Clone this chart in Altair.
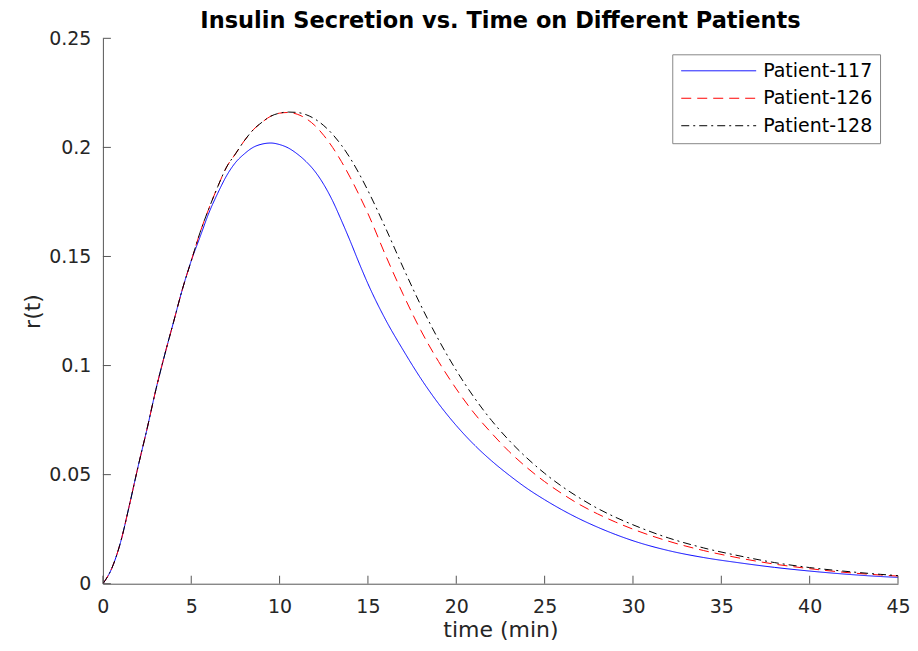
import altair as alt
import pandas as pd

# ---------------- data ----------------
time = [0, 0.5, 1, 1.5, 2, 2.5, 3, 3.5, 4, 4.5, 5,
        5.5, 6, 6.5, 7, 7.5, 8, 8.5, 9, 9.5, 10,
        10.5, 11, 11.5, 12, 12.5, 13, 13.5, 14, 14.5, 15,
        16, 17, 18, 19, 20, 21, 22, 23, 24, 25, 26, 27, 28, 29, 30,
        32, 34, 36, 38, 40, 42, 44, 45]

patient_117 = [0, 0.007, 0.019, 0.036, 0.054, 0.071, 0.089, 0.105, 0.120, 0.135, 0.148,
               0.159, 0.170, 0.179, 0.187, 0.193, 0.197, 0.200, 0.2015, 0.202, 0.2013,
               0.1997, 0.197, 0.1935, 0.1890, 0.1830, 0.1755, 0.1665, 0.1570, 0.1470, 0.1375,
               0.1210, 0.107, 0.094, 0.0825, 0.0725, 0.0638, 0.0563, 0.0497, 0.0437, 0.0385,
               0.0338, 0.0296, 0.0259, 0.0226, 0.0197,
               0.0152, 0.0120, 0.0096, 0.0075, 0.0058, 0.0044, 0.0033, 0.0029]

patient_126 = [0, 0.007, 0.019, 0.036, 0.054, 0.071, 0.089, 0.105, 0.120, 0.135, 0.148,
               0.161, 0.172, 0.182, 0.191, 0.197, 0.203, 0.208, 0.2115, 0.2143, 0.2157,
               0.2160, 0.2152, 0.2132, 0.2100, 0.2055, 0.2000, 0.1935, 0.1862, 0.1782, 0.1697,
               0.1505, 0.1325, 0.1160, 0.1018, 0.0893, 0.0783, 0.0690, 0.0605, 0.0532, 0.0468,
               0.0412, 0.0362, 0.0320, 0.0283, 0.0250,
               0.0195, 0.0152, 0.0118, 0.0090, 0.0069, 0.0052, 0.0040, 0.0035]

patient_128 = [0, 0.007, 0.019, 0.036, 0.054, 0.071, 0.089, 0.105, 0.120, 0.135, 0.148,
               0.161, 0.172, 0.182, 0.191, 0.197, 0.203, 0.208, 0.2115, 0.2143, 0.2157,
               0.2162, 0.2160, 0.2150, 0.2130, 0.2100, 0.2060, 0.2010, 0.1950, 0.1880, 0.1802,
               0.1630, 0.1448, 0.1275, 0.1118, 0.0978, 0.0855, 0.0748, 0.0656, 0.0576, 0.0506,
               0.0445, 0.0392, 0.0345, 0.0305, 0.0270,
               0.0210, 0.0164, 0.0128, 0.0097, 0.0074, 0.0057, 0.0043, 0.0037]

series_names = ["Patient-117", "Patient-126", "Patient-128"]
series_colors = ["#0000ff", "#ff0000", "#000000"]
series_dashes = [[1, 0], [10, 6], [8, 4, 2, 4]]

x_ticks = [0, 5, 10, 15, 20, 25, 30, 35, 40, 45]
y_ticks = [0, 0.05, 0.1, 0.15, 0.2, 0.25]

rows = []
for name, vals in zip(series_names, [patient_117, patient_126, patient_128]):
    for t, v in zip(time, vals):
        rows.append({"time": t, "r": v, "patient": name})
df = pd.DataFrame(rows)

W, H = 796, 546
AXIS_COLOR = "#555555"
TEXT_COLOR = "#262626"

xscale = alt.Scale(domain=[0, 45], nice=False, zero=False)
yscale = alt.Scale(domain=[0, 0.25], nice=False)

x_axis = alt.Axis(title="time (min)", values=x_ticks, labelPadding=14, titlePadding=3, labelFlush=False)
y_axis = alt.Axis(title="r(t)", values=y_ticks, format="~g", labelPadding=12, titlePadding=4, labelFlush=False)

legend = alt.Legend(
    title=None,
    orient="none",
    legendX=570,
    legendY=16,
    strokeColor="#888888",
    fillColor="white",
    padding=7,
    symbolType="M-1,0H9",
    symbolSize=225,
    symbolStrokeWidth=1,
    symbolFillColor="transparent",
    labelFont="DejaVu Sans",
    labelFontSize=19,
    labelColor="black",
    labelOffset=65,
    rowPadding=7.5,
)

lines = alt.Chart(df).mark_line(strokeWidth=1, interpolate="monotone", clip=True).encode(
    x=alt.X("time:Q", scale=xscale, axis=x_axis),
    y=alt.Y("r:Q", scale=yscale, axis=y_axis),
    color=alt.Color("patient:N", scale=alt.Scale(domain=series_names, range=series_colors), legend=legend),
    strokeDash=alt.StrokeDash("patient:N", scale=alt.Scale(domain=series_names, range=series_dashes), legend=legend),
)

xt = pd.DataFrame({"time": x_ticks})
xtick_layer = alt.Chart(xt).mark_rule(color=AXIS_COLOR, strokeWidth=1).encode(
    x=alt.X("time:Q", scale=xscale, axis=x_axis),
    y=alt.value(H),
    y2=alt.value(H - 8),
)

yt = pd.DataFrame({"r": y_ticks})
ytick_layer = alt.Chart(yt).mark_rule(color=AXIS_COLOR, strokeWidth=1).encode(
    y=alt.Y("r:Q", scale=yscale, axis=y_axis),
    x=alt.value(0),
    x2=alt.value(8),
)

chart = alt.layer(lines, xtick_layer, ytick_layer).properties(
    width=W,
    height=H,
    autosize=alt.AutoSizeParams(type="none"),
    padding={"left": 95, "top": 30, "right": 12, "bottom": 57},
    title=alt.TitleParams(
        "Insulin Secretion vs. Time on Different Patients",
        font="DejaVu Sans",
        fontSize=22.5,
        fontWeight="bold",
        color="black",
        anchor="middle",
        offset=0,
        dy=3,
    ),
).configure_view(
    strokeWidth=0
).configure_axis(
    grid=False,
    ticks=False,
    domainColor=AXIS_COLOR,
    domainWidth=1,
    labelFont="DejaVu Sans",
    labelFontSize=19,
    labelColor=TEXT_COLOR,
    titleFont="DejaVu Sans",
    titleFontSize=22,
    titleFontWeight="normal",
    titleColor=TEXT_COLOR,
)

chart.save("out.html", embed_options={"renderer": "svg", "actions": False})
